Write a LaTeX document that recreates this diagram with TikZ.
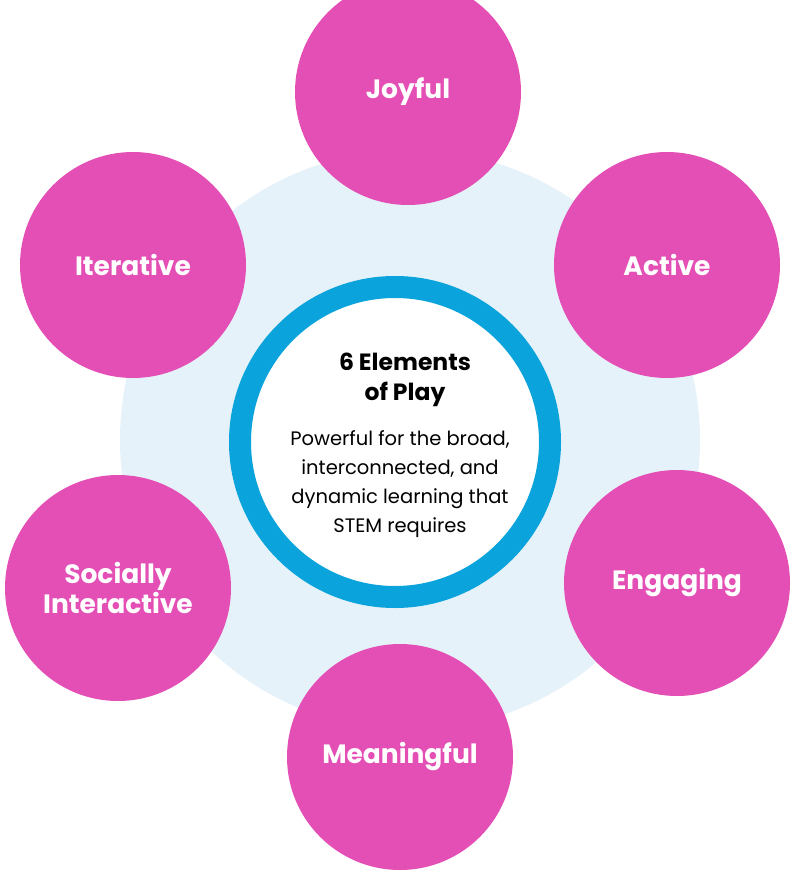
\documentclass[tikz,border=0pt]{standalone}
\usepackage{fontspec}
\setmainfont{Poppins}
\usepackage{xcolor}
\definecolor{petal}{HTML}{E44FB5}
\definecolor{ring}{HTML}{0AA3DB}
\definecolor{halo}{HTML}{E6F2F9}
\begin{document}
\begin{tikzpicture}[x=1pt, y=-1pt]
        % ================= 样式定义 =================
        \tikzset{
            % 花瓣:粉色圆
            petal/.style={circle, fill=petal, minimum size=226pt, inner sep=0pt,
                text=white, font=\bfseries\fontsize{26.5}{30}\selectfont, align=center},
            % 中心文字
            title/.style={font=\bfseries\fontsize{23.5}{30}\selectfont, align=center},
            body/.style={font=\fontsize{19.5}{29}\selectfont, align=center}
        }
        \useasboundingbox (0,0) rectangle (800,877);

        % ================= 1. 背景与中心环 =================
        \fill[halo] (410,440) circle (290);
        \node[circle, draw=ring, line width=22pt, fill=white, minimum size=310pt] (hub) at (395,442) {};
        \node[title] (head) at (405,380) {6 Elements\\of Play};
        \node[body] (desc) at (400,484) {Powerful for the broad,\\interconnected, and\\dynamic learning that\\STEM requires};

        % ================= 2. 六个元素 =================
        \node[petal] (joy) at (408,92) {Joyful};
        \node[petal] (act) at (667,265) {Active};
        \node[petal] (eng) at (677,583) {Engaging};
        \node[petal] (mea) at (400,757) {Meaningful};
        \node[petal] (soc) at (118,588) {Socially\\Interactive};
        \node[petal] (ite) at (133,265) {Iterative};

\end{tikzpicture}
\end{document}
